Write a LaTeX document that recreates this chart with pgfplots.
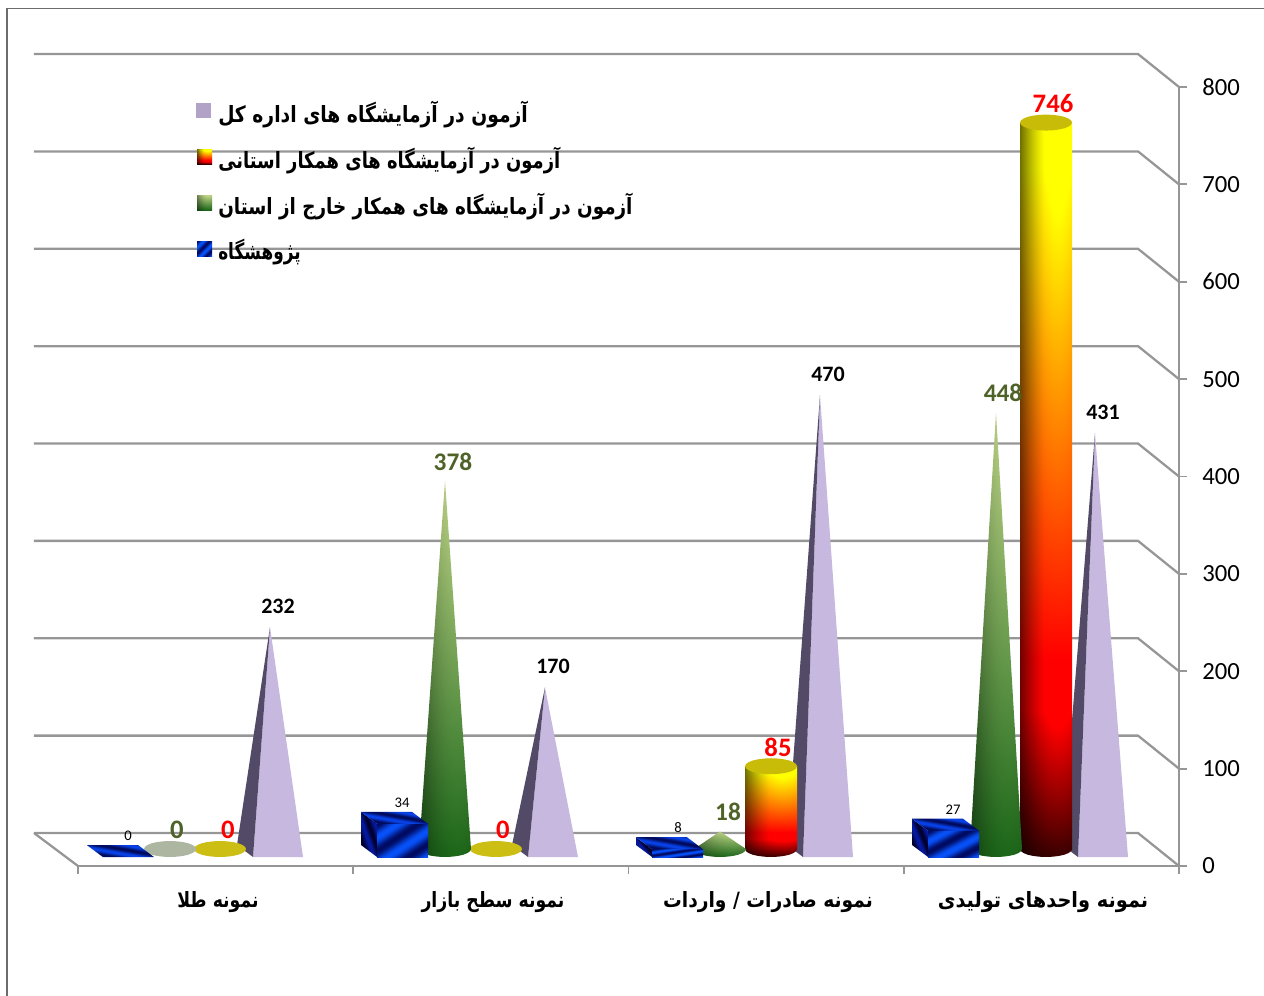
\documentclass[border=0pt]{standalone}
\usepackage{fontspec}
\setmainfont{Carlito}
\newfontfamily\arabicfont[Script=Arabic,FakeStretch=0.82]{DejaVu Sans}
\TeXXeTstate=1
\usepackage{pgfplots}
\usepackage{pgfplotstable}
\pgfplotsset{compat=1.18}

% shadings: the box 25..75 is what the path gets
\pgfdeclarefunctionalshading{cylfill}{\pgfpointorigin}{\pgfpoint{100bp}{100bp}}{}{
 25 sub 50 div exch 25 sub 50 div exch
 exch 110 mul 10 add sin 0.8 mul 0.3 add exch
 dup 4 mul 0.2 add dup 1 gt {pop 1} if
 exch 0.27 sub 1.5 mul dup 1 gt {pop 1} if dup 0 lt {pop 0} if
 3 -1 roll dup 3 1 roll mul 3 1 roll mul exch 0
}
\pgfdeclarefunctionalshading{conefill}{\pgfpointorigin}{\pgfpoint{100bp}{100bp}}{}{
 25 sub 50 div exch 25 sub 50 div exch
 exch 110 mul 10 add sin 0.5 mul 0.55 add exch
 dup 0.62 mul 0.1 add exch dup 0.42 mul 0.38 add exch 0.42 mul 0.09 add
 3 index mul 3 1 roll 3 index mul 3 1 roll 3 index mul 3 1 roll
 4 -1 roll pop
}
\pgfdeclarefunctionalshading{stripefront}{\pgfpointorigin}{\pgfpoint{100bp}{100bp}}{}{
 sub 9 mul sin 1 add 2 div
 dup 0.03 mul exch dup 0.28 mul 0.04 add exch 0.6 mul 0.38 add
}
\pgfdeclarefunctionalshading{stripetop}{\pgfpointorigin}{\pgfpoint{100bp}{100bp}}{}{
 add 9 mul sin 1 add 2 div
 dup 0.03 mul exch dup 0.22 mul 0.04 add exch 0.55 mul 0.36 add
}
\pgfdeclarefunctionalshading{stripeside}{\pgfpointorigin}{\pgfpoint{100bp}{100bp}}{}{
 add 9 mul sin 1 add 2 div
 dup 0.02 mul exch dup 0.1 mul exch 0.45 mul 0.18 add
}

\definecolor{lineG}{RGB}{150,150,150}
\definecolor{lavLight}{RGB}{198,184,222}
\definecolor{lavDark}{RGB}{82,74,102}
\definecolor{lavKey}{RGB}{178,162,199}
\definecolor{olive}{RGB}{79,98,40}
\definecolor{flatCyl}{RGB}{205,190,20}
\definecolor{flatCone}{RGB}{172,182,160}
\definecolor{topCyl}{RGB}{200,188,8}

% outlines: dx, dy in pixels, h = share of the bar's value
\pgfplotstableread{
dx dy h
34 33 1
1138 33 1
1179 0 1
}\tblGrid
\pgfplotstableread{
dx dy h
34 33 0
78 0 0
}\tblFloor
\pgfplotstableread{
dx dy h
0 0 1
26 0 0
25.1 -2.1 0
22.5 -4 0
18.4 -5.7 0
13 -6.9 0
6.7 -7.7 0
0 -8 0
-6.7 -7.7 0
-13 -6.9 0
-18.4 -5.7 0
-22.5 -4 0
-25.1 -2.1 0
-26 0 0
}\tblCone
\pgfplotstableread{
dx dy h
-26 0 1
26 0 1
26 0 0
25.1 -2.1 0
22.5 -4 0
18.4 -5.7 0
13 -6.9 0
6.7 -7.7 0
0 -8 0
-6.7 -7.7 0
-13 -6.9 0
-18.4 -5.7 0
-22.5 -4 0
-25.1 -2.1 0
-26 0 0
}\tblCyl
\pgfplotstableread{
dx dy h
26 0 1
25.1 2.1 1
22.5 4 1
18.4 5.7 1
13 6.9 1
6.7 7.7 1
0 8 1
-6.7 7.7 1
-13 6.9 1
-18.4 5.7 1
-22.5 4 1
-25.1 2.1 1
-26 0 1
-25.1 -2.1 1
-22.5 -4 1
-18.4 -5.7 1
-13 -6.9 1
-6.7 -7.7 1
0 -8 1
6.7 -7.7 1
13 -6.9 1
18.4 -5.7 1
22.5 -4 1
25.1 -2.1 1
}\tblDisc
\pgfplotstableread{
dx dy h
16 0 0
67 0 0
67 0 1
16 0 1
}\tblBoxFront
\pgfplotstableread{
dx dy h
0 12 0
16 0 0
16 0 1
0 12 1
}\tblBoxSide
\pgfplotstableread{
dx dy h
0 12 1
51 12 1
67 0 1
16 0 1
}\tblBoxTop
\pgfplotstableread{
dx dy h
0 12 0
16 0 0
33 4 1
}\tblPyrDark
\pgfplotstableread{
dx dy h
16 0 0
66 0 0
33 4 1
}\tblPyrLight
\pgfplotstableread{
dx dy h
0 0 0
15 0 0
15 15 0
0 15 0
}\tblKey

% #1 style, #2 outline, #3 x pixel, #4 y pixel of the base, #5 value
\newcommand\Shape[5]{\addplot[forget plot,#1] table[x expr={#3+\thisrow{dx}},y expr={(866-#4+\thisrow{dy})/0.974+#5*\thisrow{h}}] {#2};}
\newcommand\Cube[2]{%
 \Shape{draw=none,shade,shading=stripeside}{\tblBoxSide}{#1}{857}{#2}
 \Shape{draw=none,shade,shading=stripefront}{\tblBoxFront}{#1}{857}{#2}
 \Shape{draw=none,shade,shading=stripetop}{\tblBoxTop}{#1}{857}{#2}}
\newcommand\Cone[2]{\Shape{draw=none,shade,shading=conefill}{\tblCone}{#1}{849}{#2}}
\newcommand\Cyl[2]{%
 \Shape{draw=none,shade,shading=cylfill}{\tblCyl}{#1}{849}{#2}
 \Shape{draw=none,fill=topCyl}{\tblDisc}{#1}{849}{#2}}
\newcommand\Pyr[2]{%
 \Shape{draw=none,fill=lavLight}{\tblPyrLight}{#1}{857}{#2}
 \Shape{draw=none,fill=lavDark}{\tblPyrDark}{#1}{857}{#2}}
\newcommand\Lab[5]{\node[text=#4,font=\fontsize{#5}{#5}\selectfont\bfseries,inner sep=0pt] at (axis cs:#1,{(866-#2)/0.974}) {#3};}
\newcommand\Small[3]{\node[font=\fontsize{11}{11}\selectfont,inner sep=0pt] at (axis cs:#1,{(866-#2)/0.974}) {#3};}
\newcommand\Key[3]{\node[anchor=west,inner sep=0pt,font=\arabicfont\bfseries\fontsize{16.8}{16.8}\selectfont] at (axis cs:218,{(866-#1)/0.974}) {\scalebox{#2}[1]{#3}};}

\begin{document}
\begin{tikzpicture}
\path[use as bounding box] (0,0) rectangle (948pt,747pt);
\begin{axis}[
  at={(58.5pt,97.5pt)},anchor=south west,
  scale only axis,width=825.75pt,height=584.25pt,
  xmin=78,xmax=1179,ymin=0,ymax=800,
  clip=false,no markers,
  axis x line=bottom,axis y line=right,
  axis line style={lineG,line width=1.7pt,-},
  tick align=outside,
  tick style={lineG,line width=1.4pt},
  major tick length=6pt,minor tick length=6pt,
  ytick={0,100,...,800},
  xtick={218,493,768,1043},
  minor xtick={78,353.25,628.5,903.75,1179},
  x tick style={draw=none},
  minor x tick style={draw=lineG,line width=1.4pt},
  xticklabels={
    {\beginR نمونه طلا\endR},
    {\beginR نمونه سطح بازار\endR},
    {\scalebox{1.08}[1]{\beginR نمونه صادرات / واردات\endR}},
    {\scalebox{1.12}[1]{\beginR نمونه واحدهای تولیدی\endR}}},
  xticklabel style={font=\arabicfont\bfseries\fontsize{15.8}{15.8}\selectfont,yshift=-9.5pt},
  yticklabel style={font=\fontsize{18.5}{18.5}\selectfont,/pgf/number format/assume math mode=true,xshift=8pt},
]
% frame of the picture
\addplot[forget plot,draw=gray!85!black,line width=0.8pt] coordinates {(7,-133.5) (7,881) (1264,881)};
% back wall and floor
\Shape{lineG,line width=1.7pt}{\tblFloor}{0}{866}{0}
\Shape{lineG,line width=1.7pt}{\tblGrid}{0}{866}{0}
\Shape{lineG,line width=1.7pt}{\tblGrid}{0}{866}{100}
\Shape{lineG,line width=1.7pt}{\tblGrid}{0}{866}{200}
\Shape{lineG,line width=1.7pt}{\tblGrid}{0}{866}{300}
\Shape{lineG,line width=1.7pt}{\tblGrid}{0}{866}{400}
\Shape{lineG,line width=1.7pt}{\tblGrid}{0}{866}{500}
\Shape{lineG,line width=1.7pt}{\tblGrid}{0}{866}{600}
\Shape{lineG,line width=1.7pt}{\tblGrid}{0}{866}{700}
\Shape{lineG,line width=1.7pt}{\tblGrid}{0}{866}{800}
% gold samples
\Pyr{237}{232}
\Shape{draw=none,fill=flatCyl}{\tblDisc}{220}{849}{0}
\Shape{draw=none,fill=flatCone}{\tblDisc}{170}{849}{0}
\Cube{87}{0}
% market samples
\Pyr{512}{170}
\Shape{draw=none,fill=flatCyl}{\tblDisc}{496}{849}{0}
\Cone{445}{378}
\Cube{361}{34}
% import and export samples
\Pyr{787}{470}
\Cyl{771}{85}
\Cone{720}{18}
\Cube{636}{8}
% production units
\Pyr{1062}{431}
\Cyl{1046}{746}
\Cone{996}{448}
\Cube{912}{27}
% data labels
\Small{128}{836}{0}
\Lab{177}{830}{0}{olive}{20}
\Lab{228}{830}{0}{red}{20}
\Lab{278}{606}{232}{black}{16.5}
\Small{402}{803}{34}
\Lab{453}{462}{378}{olive}{19}
\Lab{503}{830}{0}{red}{20}
\Lab{553}{666}{170}{black}{16.5}
\Small{678}{828}{8}
\Lab{728}{812}{18}{olive}{19}
\Lab{778}{747}{85}{red}{20}
\Lab{828}{374}{470}{black}{16.5}
\Small{953}{810}{27}
\Lab{1003}{393}{448}{olive}{19}
\Lab{1053}{103}{746}{red}{20}
\Lab{1103}{412}{431}{black}{16.5}
% legend
\Shape{draw=none,fill=lavKey}{\tblKey}{196}{118}{0}
\Shape{draw=none,shade,shading=cylfill}{\tblKey}{197}{164}{0}
\Shape{draw=none,shade,shading=conefill}{\tblKey}{197}{210}{0}
\Shape{draw=none,shade,shading=stripefront}{\tblKey}{197}{256}{0}
\Key{114}{1.02}{\beginR آزمون در آزمایشگاه های اداره کل\endR}
\Key{160}{0.976}{\beginR آزمون در آزمایشگاه های همکار استانی\endR}
\Key{206}{1}{\beginR آزمون در آزمایشگاه های همکار خارج از استان\endR}
\Key{252}{0.92}{\beginR پژوهشگاه\endR}
\end{axis}
\end{tikzpicture}
\end{document}
